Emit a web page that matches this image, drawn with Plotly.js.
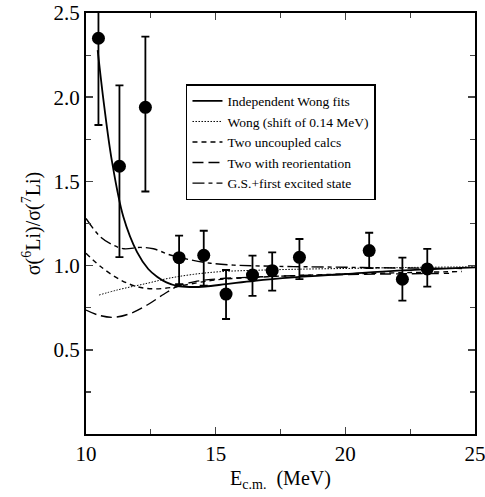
<!DOCTYPE html>
<html><head><meta charset="utf-8">
<script src="https://cdn.plot.ly/plotly-3.0.1.min.js"></script>
<style>body{margin:0;background:#fff}#c{width:485px;height:497px}</style>
</head><body><div id="c"></div>
<script>
// data points
const dataE   = [10.48, 11.29, 12.29, 13.59, 14.54, 15.40, 16.42, 17.18, 18.23, 20.92, 22.20, 23.16];
const dataR   = [2.35, 1.59, 1.94, 1.047, 1.061, 0.831, 0.944, 0.970, 1.049, 1.089, 0.919, 0.980];
const errPlus = [0.35, 0.48, 0.42, 0.131, 0.146, 0.143, 0.115, 0.109, 0.109, 0.106, 0.128, 0.119];
const errMinus= [0.515, 0.54, 0.50, 0.157, 0.18, 0.148, 0.124, 0.119, 0.129, 0.104, 0.127, 0.105];

// Independent Wong fits (solid)
const solidE = [10.45, 10.7, 11.0, 11.44, 11.97, 12.4, 12.74, 13.1, 13.51, 14.0, 14.6, 15.4, 16.5, 18.0, 20.0, 22.0, 25.0];
const solidR = [2.28, 1.95, 1.62, 1.29, 1.08, 0.98, 0.934, 0.90, 0.879, 0.873, 0.876, 0.89, 0.91, 0.93, 0.95, 0.97, 0.99];
// Wong (shift of 0.14 MeV) (dotted)
const dotE = [10.5, 11.2, 12.36, 13.2, 14.14, 15.18, 16.5, 18.0, 20.0, 22.0, 25.0];
const dotR = [0.825, 0.855, 0.895, 0.925, 0.948, 0.964, 0.972, 0.978, 0.983, 0.988, 0.993];
// Two uncoupled calcs (short dash)
const unE = [10.0, 10.6, 11.33, 11.97, 12.6, 13.3, 14.0, 15.0, 16.5, 18.0, 20.0, 22.0, 24.5];
const unR = [1.073, 0.99, 0.915, 0.875, 0.862, 0.87, 0.89, 0.915, 0.93, 0.94, 0.95, 0.957, 0.965];
// Two with reorientation (long dash)
const reE = [10.0, 10.5, 11.07, 11.7, 12.36, 13.0, 13.5, 14.2, 15.0, 16.5, 18.0, 20.0, 22.0, 24.0];
const reR = [0.736, 0.705, 0.693, 0.715, 0.766, 0.83, 0.875, 0.905, 0.92, 0.932, 0.94, 0.947, 0.951, 0.954];
// G.S.+first excited state (dash-dot)
const gsE = [10.0, 10.56, 11.0, 11.46, 12.1, 12.6, 13.25, 14.0, 14.8, 15.7, 16.7, 18.0, 20.0, 22.0, 24.5];
const gsR = [1.28, 1.17, 1.125, 1.10, 1.108, 1.10, 1.063, 1.035, 1.014, 1.003, 0.998, 0.994, 0.99, 0.986, 0.983];

const lineW = 1.4;
const traces = [
  {x: solidE, y: solidR, mode: 'lines', name: 'Independent Wong fits', line: {color: '#000', width: 1.8, shape: 'spline'}},
  {x: dotE, y: dotR, mode: 'lines', name: 'Wong (shift of 0.14 MeV)', line: {color: '#000', width: 1.0, dash: '1.5px,1.5px', shape: 'spline'}},
  {x: unE, y: unR, mode: 'lines', name: 'Two uncoupled calcs', line: {color: '#000', width: lineW, dash: '5px,4px', shape: 'spline'}},
  {x: reE, y: reR, mode: 'lines', name: 'Two with reorientation', line: {color: '#000', width: lineW, dash: '11px,5px', shape: 'spline'}},
  {x: gsE, y: gsR, mode: 'lines', name: 'G.S.+first excited state', line: {color: '#000', width: lineW, dash: '12px,4px,4px,4px', shape: 'spline'}},
  {x: dataE, y: dataR, mode: 'markers', showlegend: false,
   marker: {color: '#000', size: 13},
   error_y: {type: 'data', symmetric: false, array: errPlus, arrayminus: errMinus, color: '#000', thickness: 1.8, width: 4}}
];

const serif = 'Liberation Serif';
const tickFont = {family: serif, size: 21, color: '#000'};
const titleFont = {family: serif, size: 20, color: '#000'};
const layout = {
  width: 485, height: 497,
  margin: {l: 86, r: 10, t: 13, b: 63},
  paper_bgcolor: '#fff', plot_bgcolor: '#fff',
  showlegend: true,
  font: {family: serif, color: '#000'},
  legend: {x: 0.257, y: 0.831, xanchor: 'left', yanchor: 'top',
           bordercolor: '#000', borderwidth: 1.5, bgcolor: '#fff',
           font: {family: serif, size: 13.5, color: '#000'},
           tracegroupgap: 0, itemwidth: 30},
  xaxis: {range: [10, 25], tickvals: [10, 15, 20, 25], ticks: 'inside', ticklen: 7, tickwidth: 1.5,
          showline: true, mirror: 'ticks', linecolor: '#000', linewidth: 2, showgrid: false, zeroline: false,
          minor: {dtick: 2.5, ticks: 'inside', ticklen: 5, tickwidth: 1.2, showgrid: false},
          tickfont: tickFont, automargin: false, ticklabeloverflow: 'allow',
          title: {text: 'E<sub>c.m.</sub>  (MeV)', font: titleFont, standoff: 6}},
  yaxis: {range: [0, 2.5], tickvals: [0.5, 1.0, 1.5, 2.0, 2.5], ticktext: ['0.5', '1.0', '1.5', '2.0', '2.5'],
          ticks: 'inside', ticklen: 7, tickwidth: 1.5,
          showline: true, mirror: 'ticks', linecolor: '#000', linewidth: 2, showgrid: false, zeroline: false,
          minor: {dtick: 0.25, ticks: 'inside', ticklen: 5, tickwidth: 1.2, showgrid: false},
          tickfont: tickFont, automargin: false, ticklabeloverflow: 'allow',
          title: {text: 'σ(<sup>6</sup>Li)/σ(<sup>7</sup>Li)', font: titleFont, standoff: 8}}
};
Plotly.newPlot('c', traces, layout, {displayModeBar: false, staticPlot: true});
</script></body></html>
